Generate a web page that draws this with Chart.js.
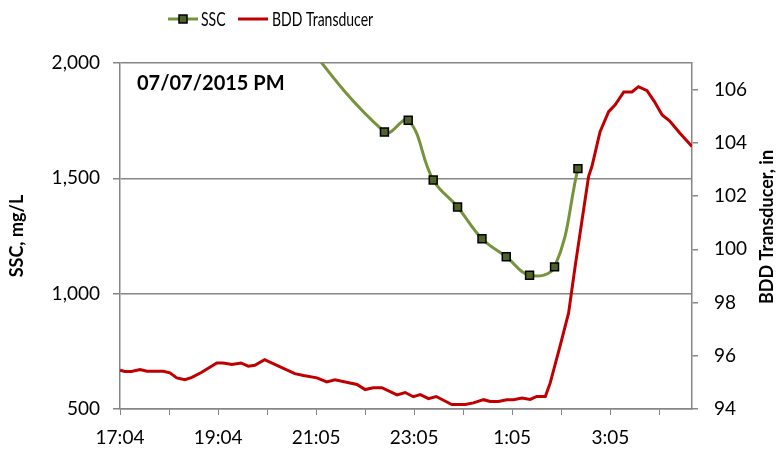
<!DOCTYPE html>
<html lang="en">
<head>
  <meta charset="UTF-8" />
  <title>SSC and BDD Transducer, 07/07/2015</title>
  <script src="https://cdn.jsdelivr.net/npm/chart.js@4"></script>
  <style>
    html, body { margin: 0; padding: 0; background: #fff; }
  </style>
</head>
<body>
  <canvas id="sscChart" width="777" height="452"></canvas>

  <script>
    // x values are minutes after 17:04
    const xTickLabels = ['17:04', '', '19:04', '', '21:05', '', '23:05', '', '1:05', '', '3:05', ''];
    const sscTimes  = [180, 323.6, 352.7, 383.3, 413.1, 443, 472.7, 501.2, 531.8, 560.4];
    const sscValues = [2300, 1701, 1752, 1493, 1376, 1238, 1160, 1080, 1116, 1542];
    const bddTimes = [0, 6, 14, 24.5, 33, 53, 61, 69.5, 79.5, 88, 100, 118.5, 126.5, 137, 148, 157, 165, 177, 194, 214,
      224.5, 241, 253, 263, 290, 300, 310, 320.5, 339, 349, 359, 367.5, 377.5, 387, 406, 422.5, 432.5, 445, 453, 463,
      473.5, 481.5, 492, 502, 510, 520.5, 526.5, 539, 549, 557, 565.5, 573.5, 577.5, 587.5, 598, 606, 616.5, 626.5,
      634.5, 645, 654, 663.5, 672.5, 684.5, 700];
    const bddValues = [95.46, 95.41, 95.41, 95.48, 95.42, 95.42, 95.36, 95.17, 95.10, 95.19, 95.38, 95.73, 95.73, 95.67,
      95.73, 95.61, 95.64, 95.85, 95.61, 95.33, 95.26, 95.17, 95.02, 95.10, 94.92, 94.73, 94.80, 94.80, 94.53, 94.62,
      94.46, 94.54, 94.39, 94.47, 94.17, 94.17, 94.23, 94.35, 94.28, 94.28, 94.35, 94.35, 94.41, 94.36, 94.47, 94.47,
      94.98, 96.42, 97.61, 99.36, 101.11, 102.74, 103.11, 104.42, 105.17, 105.43, 105.91, 105.91, 106.11, 105.96,
      105.55, 105.05, 104.83, 104.39, 103.86];
    const annotationText = '07/07/2015 PM';

    const axisGrey = '#868686';
    const sscLine = '#77933C';
    const sscMarker = '#4F6228';
    const bddRed = '#C00000';

    // legend, right-hand title and date label drawn on top
    const extras = {
      id: 'extras',
      afterDraw(chart) {
        const ctx = chart.ctx;
        ctx.save();
        ctx.fillStyle = '#000';
        ctx.textBaseline = 'middle';

        ctx.font = 'bold 20px Lato';
        ctx.fillText(annotationText, 137, 84);

        ctx.save();
        ctx.translate(767, 227);
        ctx.rotate(-Math.PI / 2);
        ctx.textAlign = 'center';
        ctx.font = 'bold 18px Lato';
        ctx.fillText('BDD Transducer, in', 0, 0);
        ctx.restore();

        // legend
        const ly = 19;
        const ds = chart.data.datasets;
        ctx.lineWidth = 3;
        ctx.strokeStyle = ds[0].borderColor;
        ctx.beginPath(); ctx.moveTo(168, ly); ctx.lineTo(198, ly); ctx.stroke();
        ctx.fillStyle = sscMarker;
        ctx.fillRect(179, ly - 4, 8, 8);
        ctx.lineWidth = 1.5;
        ctx.strokeStyle = '#000';
        ctx.strokeRect(179, ly - 4, 8, 8);
        ctx.lineWidth = 3;
        ctx.strokeStyle = ds[1].borderColor;
        ctx.beginPath(); ctx.moveTo(238, ly); ctx.lineTo(268, ly); ctx.stroke();

        ctx.fillStyle = '#000';
        ctx.font = '20px Lato';
        const sx = 0.7;
        ctx.save();
        ctx.translate(201, ly + 1);
        ctx.scale(sx, 1);
        ctx.fillText(ds[0].label, 0, 0);
        ctx.restore();
        ctx.save();
        ctx.translate(272, ly + 1);
        ctx.scale(sx, 1);
        ctx.fillText(ds[1].label, 0, 0);
        ctx.restore();

        ctx.restore();
      }
    };

    const ctx = document.getElementById('sscChart').getContext('2d');
    new Chart(ctx, {
      type: 'line',
      data: {
        datasets: [{
          label: 'SSC',
          data: sscTimes.map((t, i) => ({ x: t, y: sscValues[i] })),
          yAxisID: 'y',
          borderColor: sscLine,
          borderWidth: 3,
          tension: 0.4,
          pointStyle: 'rect',
          pointRadius: 5.6,
          pointBackgroundColor: sscMarker,
          pointBorderColor: '#000',
          pointBorderWidth: 1.5,
          order: 0
        }, {
          label: 'BDD Transducer',
          data: bddTimes.map((t, i) => ({ x: t, y: bddValues[i] })),
          yAxisID: 'y2',
          borderColor: bddRed,
          borderWidth: 3,
          tension: 0,
          pointRadius: 0,
          order: 1
        }]
      },
      options: {
        responsive: false,
        animation: false,
        layout: { padding: { top: 63, left: 0, right: 0, bottom: 0 } },
        plugins: {
          legend: { display: false },
          tooltip: { enabled: false }
        },
        scales: {
          x: {
            type: 'linear',
            min: 0,
            max: 700,
            afterBuildTicks: (scale) => {
              scale.ticks = xTickLabels.map((_, i) => ({ value: i * 60 }));
            },
            afterFit: (scale) => { scale.height = 43; },
            ticks: {
              autoSkip: false,
              maxRotation: 0,
              padding: 11,
              color: '#000',
              font: { family: 'Lato', size: 19 },
              callback: (v) => xTickLabels[Math.round(v / 60)]
            },
            grid: { drawOnChartArea: false, color: axisGrey, tickLength: 6 },
            border: { color: axisGrey, width: 1.5 }
          },
          y: {
            position: 'left',
            min: 500,
            max: 2000,
            afterFit: (scale) => { scale.width = 120; },
            ticks: {
              stepSize: 500,
              padding: 13,
              color: '#000',
              font: { family: 'Lato', size: 19 },
              callback: (v) => v.toLocaleString('en-US')
            },
            grid: { color: axisGrey, lineWidth: 1.5, tickLength: 7 },
            border: { color: axisGrey, width: 1.5 },
            title: {
              display: true,
              text: 'SSC, mg/L',
              color: '#000',
              font: { family: 'Lato', size: 18, weight: 'bold' },
              padding: { top: 6, bottom: 0 }
            }
          },
          y2: {
            position: 'right',
            min: 94,
            max: 107,
            afterFit: (scale) => { scale.width = 85; },
            ticks: {
              stepSize: 2,
              includeBounds: false,
              padding: 16,
              color: '#000',
              font: { family: 'Lato', size: 19 }
            },
            grid: { drawOnChartArea: false, color: axisGrey, lineWidth: 1.5, tickLength: 6 },
            border: { color: axisGrey, width: 1.5 }
          }
        }
      },
      plugins: [extras]
    });
  </script>
</body>
</html>
